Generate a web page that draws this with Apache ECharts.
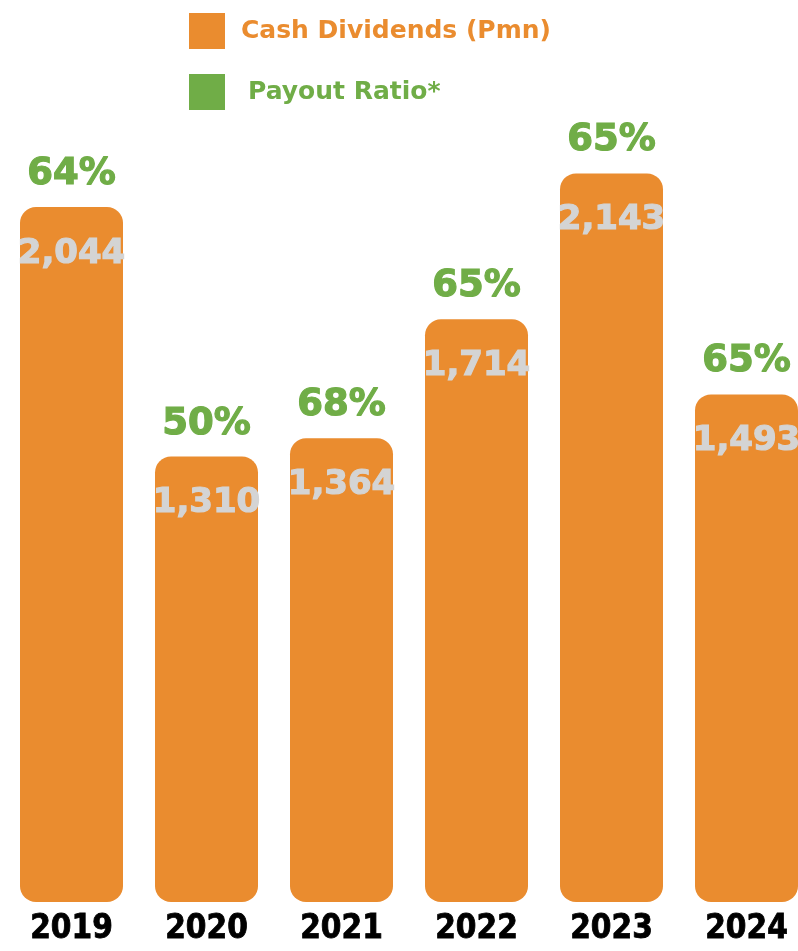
<!DOCTYPE html>
<html>
<head>
<meta charset="utf-8">
<script src="https://cdn.jsdelivr.net/npm/echarts@6/dist/echarts.min.js"></script>
<style>html,body{margin:0;padding:0;background:#fff;}#c{width:798px;height:951px;}</style>
</head>
<body>
<div id="c"></div>
<script>
const years = ['2019', '2020', '2021', '2022', '2023', '2024'];
const cashDividends = [2044, 1310, 1364, 1714, 2143, 1493];
const payoutRatio = [64, 50, 68, 65, 65, 65];

const ORANGE = '#EA8C2F';
const GREEN = '#70AD47';
const GREY = '#D4D4D4';
const FONT = 'DejaVu Sans, sans-serif';

const chart = echarts.init(document.getElementById('c'));
chart.setOption({
  animation: false,
  backgroundColor: '#fff',
  legend: {
    orient: 'vertical',
    left: 184,
    top: 8,
    itemWidth: 36,
    itemHeight: 36,
    itemGap: 25,
    icon: 'rect',
    selectedMode: false,
    data: [
      { name: 'Cash Dividends (Pmn)', itemStyle: { color: ORANGE }, textStyle: { color: ORANGE } },
      { name: 'Payout Ratio*', itemStyle: { color: GREEN }, textStyle: { color: GREEN, padding: [0, 0, 0, 18] } }
    ],
    textStyle: { fontFamily: FONT, fontWeight: 'bold', fontSize: 25, padding: [0, 0, 0, 11] }
  },
  grid: { left: 4, right: -16, top: 86, bottom: 49, outerBoundsMode: 'none', containLabel: false },
  xAxis: {
    type: 'category',
    data: years,
    axisLine: { show: false },
    axisTick: { show: false },
    axisLabel: {
      margin: 11,
      color: '#000',
      fontFamily: 'Liberation Sans Narrow, DejaVu Sans Condensed, sans-serif',
      fontWeight: 'bold',
      fontSize: 33,
      textBorderColor: '#000',
      textBorderWidth: 0.8
    }
  },
  yAxis: {
    type: 'value',
    min: 0,
    max: 2400,
    show: false,
    splitLine: { show: false }
  },
  series: [
    {
      name: 'Cash Dividends (Pmn)',
      type: 'bar',
      data: cashDividends,
      barWidth: 103,
      barGap: '-100%',
      itemStyle: { color: ORANGE, borderRadius: 16 },
      label: {
        show: true,
        position: 'insideTop',
        distance: 30,
        color: GREY,
        textBorderColor: GREY,
        textBorderWidth: 1.2,
        fontFamily: FONT,
        fontWeight: 'bold',
        fontSize: 34,
        formatter: p => p.value.toLocaleString('en-US')
      }
    },
    {
      name: 'Payout Ratio*',
      type: 'bar',
      data: cashDividends,
      barWidth: 103,
      barGap: '-100%',
      silent: true,
      itemStyle: { color: 'rgba(0,0,0,0)' },
      label: {
        show: true,
        position: 'top',
        distance: 14,
        color: GREEN,
        textBorderColor: GREEN,
        textBorderWidth: 1.2,
        fontFamily: FONT,
        fontWeight: 'bold',
        fontSize: 37,
        formatter: p => payoutRatio[p.dataIndex] + '%'
      }
    }
  ]
});
</script>
</body>
</html>
